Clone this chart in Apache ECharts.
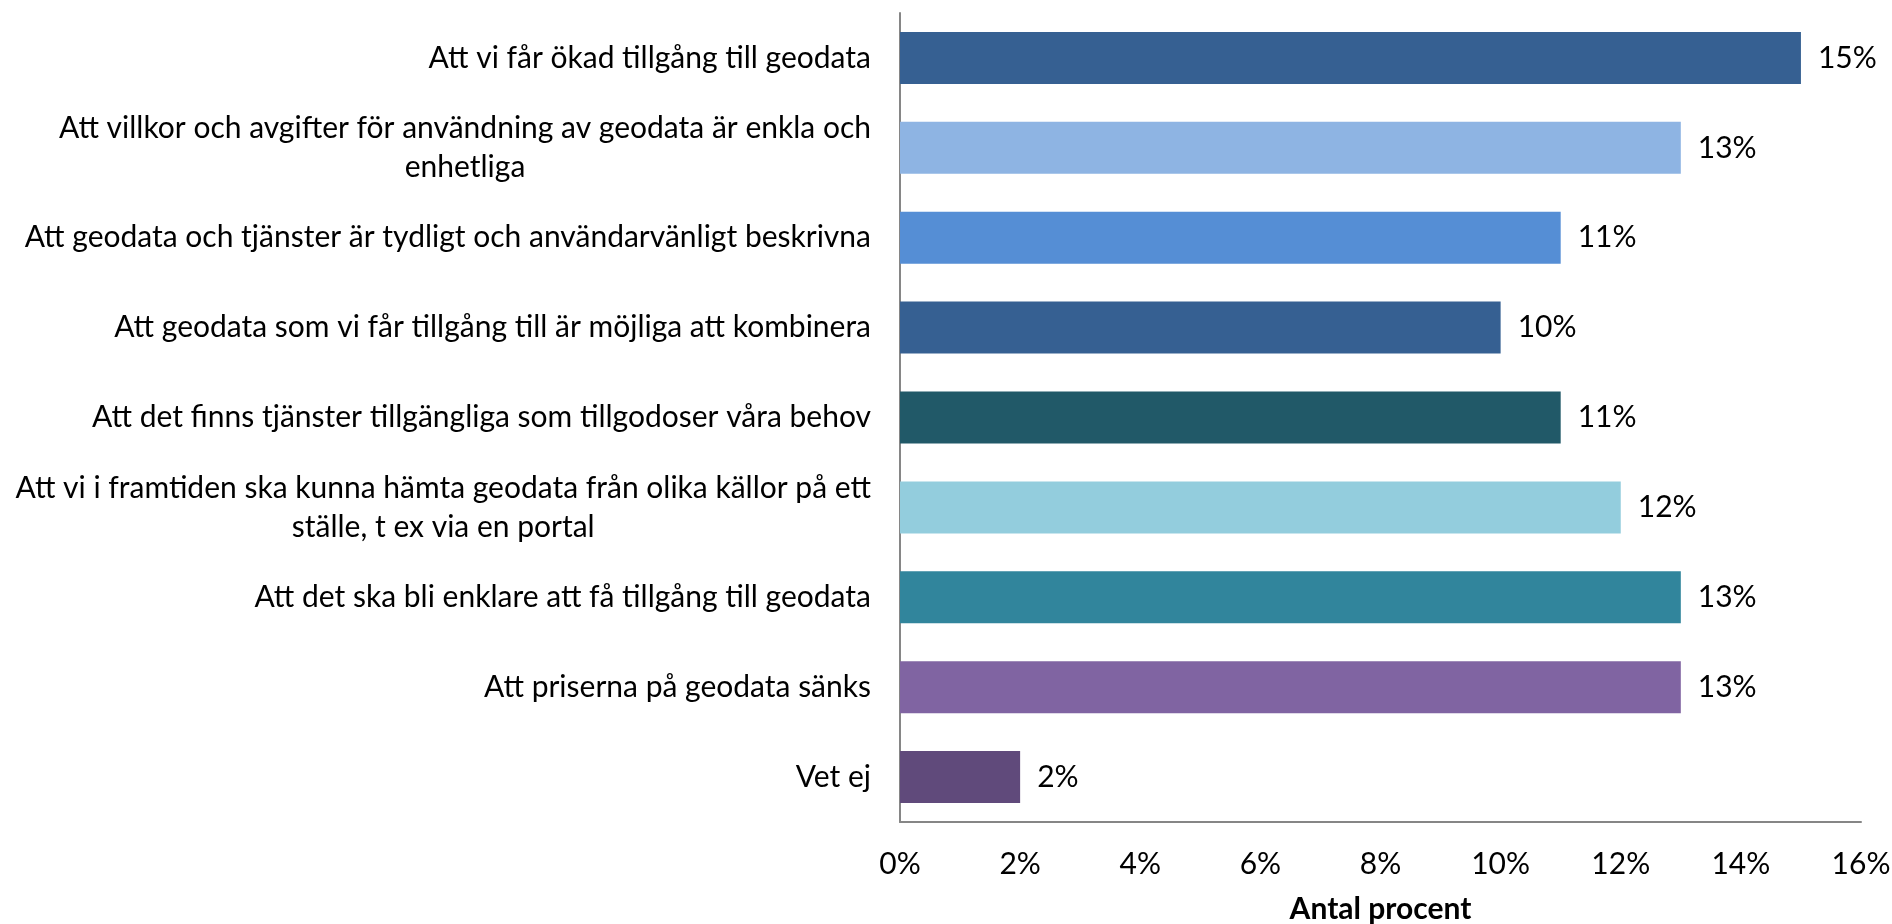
<!DOCTYPE html>
<html>
<head>
<meta charset="utf-8">
<script src="https://cdn.jsdelivr.net/npm/echarts@6/dist/echarts.min.js"></script>
<style>
    html, body {margin: 0; padding: 0; background: #fff;}
    #chartWarp {width: 1892px; height: 924px;}
</style>
</head>
<body>
<div id="chartWarp"></div>
<script>
    //data
    var categories = [
        'Att vi får ökad tillgång till geodata',
        'Att villkor och avgifter för användning av geodata är enkla och\nenhetliga',
        'Att geodata och tjänster är tydligt och användarvänligt beskrivna',
        'Att geodata som vi får tillgång till är möjliga att kombinera',
        'Att det finns tjänster tillgängliga som tillgodoser våra behov',
        'Att vi i framtiden ska kunna hämta geodata från olika källor på ett\nställe, t ex via en portal',
        'Att det ska bli enklare att få tillgång till geodata',
        'Att priserna på geodata sänks',
        'Vet ej'
    ]
    var values = [15, 13, 11, 10, 11, 12, 13, 13, 2]
    var barColors = ['#366092', '#8eb4e3', '#558ed5', '#366092', '#215968', '#93cddd', '#31859c', '#8064a2', '#604a7b']
    var xTicks = [0, 2, 4, 6, 8, 10, 12, 14, 16]

    var fontName = 'Lato'
    var fs = 30

    var option = {
        animation: false,
        textStyle: {fontFamily: fontName},
        grid: {
            left: 900,
            right: 31,
            top: 13,
            bottom: 102,
            containLabel: false,
            outerBoundsMode: 'none'
        },
        xAxis: {
            type: 'value',
            min: xTicks[0],
            max: xTicks[xTicks.length - 1],
            interval: 2,
            name: 'Antal procent',
            nameLocation: 'middle',
            nameGap: 72,
            nameTextStyle: {color: '#000', fontSize: fs, fontWeight: 'bold', fontFamily: fontName},
            axisLine: {show: true, lineStyle: {color: '#868686', width: 2}},
            axisTick: {show: false},
            splitLine: {show: false},
            axisLabel: {
                color: '#000',
                fontSize: fs,
                margin: 27,
                fontFamily: fontName,
                formatter: function (v) { return v + '%' }
            }
        },
        yAxis: {
            type: 'category',
            inverse: true,
            data: categories,
            axisLine: {show: true, lineStyle: {color: '#868686', width: 2}},
            axisTick: {show: false},
            axisLabel: {
                color: '#000',
                fontSize: fs,
                margin: 29,
                fontFamily: fontName,
                formatter: function (v) {
                    // wrapped lines centered like excel
                    return v.split('\n').map(function (s) { return '{c|' + s + '}' }).join('\n')
                },
                rich: {
                    c: {align: 'center', fontSize: fs, lineHeight: 39, color: '#000', fontFamily: fontName}
                }
            }
        },
        series: [
            {
                type: 'bar',
                barWidth: 52,
                data: values.map(function (v, i) {
                    return {value: v, itemStyle: {color: barColors[i]}}
                }),
                label: {
                    show: true,
                    position: 'right',
                    distance: 17,
                    color: '#000',
                    fontSize: fs,
                    fontFamily: fontName,
                    formatter: function (p) { return p.value + '%' }
                }
            }
        ]
    }

    var myChart = echarts.init(document.getElementById('chartWarp'))
    myChart.setOption(option)
</script>
</body>
</html>
